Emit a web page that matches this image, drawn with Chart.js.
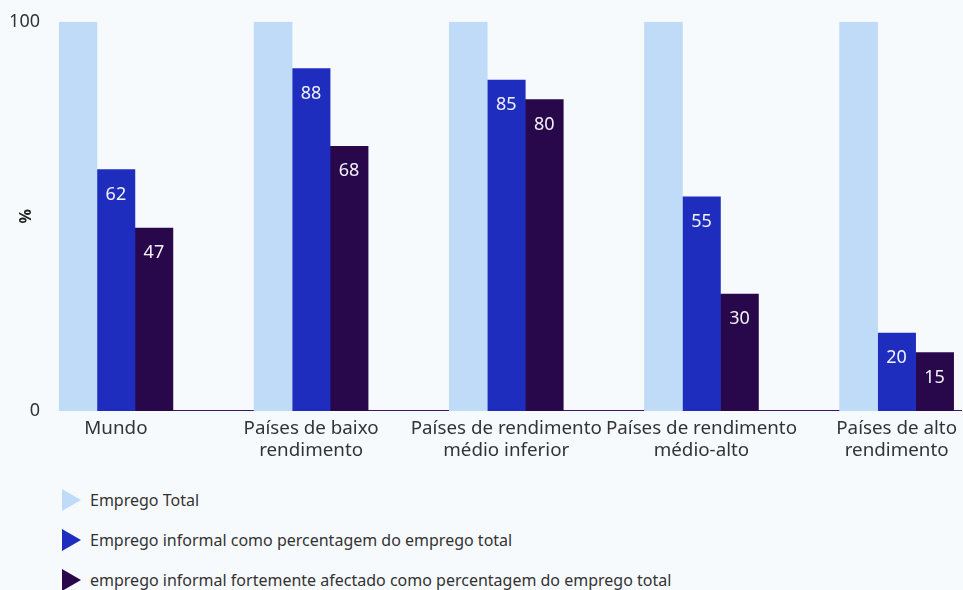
<!DOCTYPE html>
<html>
<head>
<meta charset="utf-8">
<script src="https://cdn.jsdelivr.net/npm/chart.js@4"></script>
<style>
  html, body { margin: 0; padding: 0; background: #f7fafd; overflow: hidden; }
  #wrap { position: relative; width: 963px; height: 590px; font-family: "Noto Sans", sans-serif; }
  #box { position: absolute; left: 0; top: 0; width: 963px; height: 468px; }
  .legend { position: absolute; left: 62px; top: 480px; margin: 0; padding: 0; list-style: none; }
  .legend li { display: flex; align-items: center; height: 40px; font-size: 16px; color: #333; }
  .legend i { display: inline-block; width: 0; height: 0; border-top: 11px solid transparent; border-bottom: 11px solid transparent; border-left: 19px solid; margin-right: 9px; }
</style>
</head>
<body>
<div id="wrap">
  <div id="box"><canvas id="chart"></canvas></div>
  <ul class="legend" id="legend"></ul>
</div>
<script>
const categories = [
  ['Mundo'],
  ['Países de baixo', 'rendimento'],
  ['Países de rendimento', 'médio inferior'],
  ['Países de rendimento', 'médio-alto'],
  ['Países de alto', 'rendimento'],
];
const seriesNames = [
  'Emprego Total',
  'Emprego informal como percentagem do emprego total',
  'emprego informal fortemente afectado como percentagem do emprego total',
];
const totalEmployment = [100, 100, 100, 100, 100];
const informalShare = [62, 88, 85, 55, 20];
const affectedShare = [47, 68, 80, 30, 15];
const yTicks = [0, 100];
const colors = ['#bfdbf7', '#1e2dbe', '#28084b'];

const FONT = '"Noto Sans", sans-serif';
const toPoints = (vals) => vals.map((y, i) => ({ x: i, y }));

// white value labels just inside the top of each bar
const barValues = {
  id: 'barValues',
  afterDatasetsDraw(chart) {
    const ctx = chart.ctx;
    ctx.save();
    ctx.font = '18px ' + FONT;
    ctx.fillStyle = '#f2f2f7';
    ctx.textAlign = 'center';
    ctx.textBaseline = 'middle';
    chart.data.datasets.forEach((ds, di) => {
      if (!ds.showValue) return;
      chart.getDatasetMeta(di).data.forEach((bar, i) => {
        ctx.fillText(String(ds.data[i].y), bar.x, bar.y + 25);
      });
    });
    ctx.restore();
  },
};

const datasets = [totalEmployment, informalShare, affectedShare].map((vals, i) => ({
  label: seriesNames[i],
  data: toPoints(vals),
  backgroundColor: colors[i],
  barThickness: 38,
  showValue: i > 0,
}));

new Chart(document.getElementById('chart'), {
  type: 'bar',
  data: { datasets },
  options: {
    responsive: true,
    maintainAspectRatio: false,
    animation: false,
    layout: { padding: { top: 8, right: 0, left: 0, bottom: 0 } },
    plugins: { legend: { display: false }, tooltip: { enabled: false } },
    scales: {
      x: {
        type: 'linear',
        offset: false,
        bounds: 'data',
        min: -0.2916,
        max: 4.3325,
        afterBuildTicks: (s) => { s.ticks = categories.map((_, i) => ({ value: i })); },
        ticks: {
          autoSkip: false,
          includeBounds: false,
          maxRotation: 0,
          padding: 6,
          color: '#333',
          font: { family: FONT, size: 18.8, lineHeight: 1.2 },
          callback: (v) => categories[v] || '',
        },
        grid: { display: false, drawTicks: false },
        border: { display: true, color: '#3a1670', width: 1 },
      },
      y: {
        min: 0,
        max: 100,
        afterBuildTicks: (s) => { s.ticks = yTicks.map((v) => ({ value: v })); },
        afterFit: (s) => { s.width = 59; },
        ticks: { padding: 11, color: '#333', font: { family: FONT, size: 18 } },
        grid: { display: false },
        border: { display: false },
        title: {
          display: true,
          text: '%',
          color: '#222',
          font: { family: FONT, size: 16, weight: 'bold' },
          padding: { top: 17, bottom: 0 },
        },
      },
    },
  },
  plugins: [barValues],
});

document.getElementById('legend').innerHTML = seriesNames
  .map((name, i) => `<li><i style="border-left-color:${colors[i]}"></i>${name}</li>`)
  .join('');
</script>
</body>
</html>
